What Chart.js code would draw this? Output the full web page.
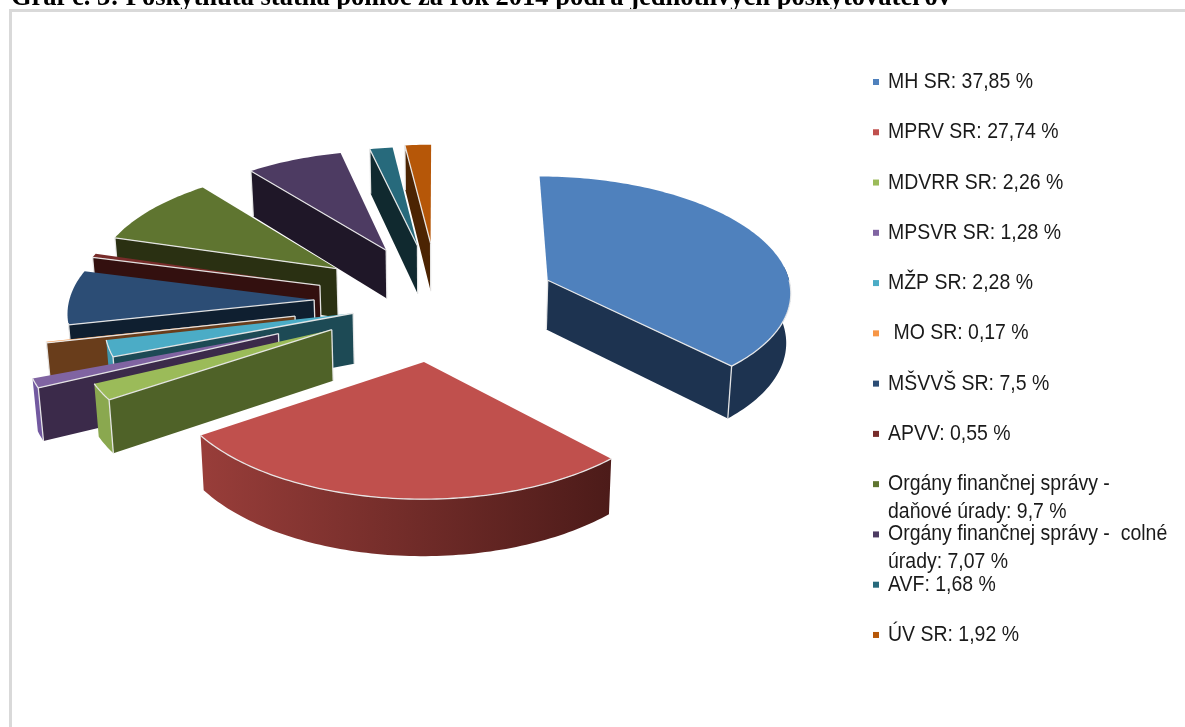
<!DOCTYPE html>
<html lang="sk"><head><meta charset="utf-8">
<script src="https://cdn.jsdelivr.net/npm/chart.js@4"></script>
<style>
html,body{margin:0;padding:0;background:#fff;overflow:hidden}
#wrap{position:relative;width:1185px;height:727px}
#frame{position:absolute;left:9px;top:9px;width:1300px;height:900px;border:3px solid #d9d9d9;box-sizing:border-box;pointer-events:none}
canvas{position:absolute;left:0;top:0}
</style></head><body>
<div id="wrap"><canvas id="c" width="1185" height="727"></canvas><div id="frame"></div></div>
<script>
const titleText = "Graf č. 3: Poskytnutá štátna pomoc za rok 2014 podľa jednotlivých poskytovateľov";
const categories = ["MH SR","MPRV SR","MDVRR SR","MPSVR SR","MŽP SR","MO SR","MŠVVŠ SR","APVV","Orgány finančnej správy - daňové úrady","Orgány finančnej správy - colné úrady","AVF","ÚV SR"];
const shares = [37.85,27.74,2.26,1.28,2.28,0.17,7.5,0.55,9.7,7.07,1.68,1.92];
const legendLines = [["MH SR: 37,85 %"],["MPRV SR: 27,74 %"],["MDVRR SR: 2,26 %"],["MPSVR SR: 1,28 %"],["MŽP SR: 2,28 %"],[" MO SR: 0,17 %"],["MŠVVŠ SR: 7,5 %"],["APVV: 0,55 %"],["Orgány finančnej správy -","daňové úrady: 9,7 %"],["Orgány finančnej správy -  colné","úrady: 7,07 %"],["AVF: 1,68 %"],["ÚV SR: 1,92 %"]];
const topColors = ["#4F81BD","#C0504D","#9BBB59","#8064A2","#4BACC6","#F79646","#2C4D75","#772C2A","#5F7530","#4D3B62","#276A7C","#B65708"];
const wallColors = ["#1D3350","#7a2f2d","#4F6228","#3B2A4A","#1D4A55","#693D1B","#0F1F30","#33100F","#2A3012","#1F1728","#10292F","#4C2403"];
const rimLeft = ["#1D3350","#A5433F","#8AA84F","#7259A0","#3F96AD","#693D1B","#1F3752","#5A1F1E","#2A3012","#1F1728","#10292F","#4C2403"];
const rimRight = ["#1D3350","#4A1A18","#8AA84F","#7259A0","#3F96AD","#693D1B","#1F3752","#5A1F1E","#2A3012","#1F1728","#10292F","#4C2403"];
const explodeBy = [120,125,120,170,88,145,124,124,125,124,124,128];

const tilt = 0.471, depth = 50, camera = 3018, edge = "rgba(235,235,235,0.95)";
const rimLimit = Math.PI - 0.2, rimFrom = -0.12;

const pie3d = {
  id: "pie3d",
  beforeDatasetDraw(chart, args) {
    const ctx = chart.ctx, arcs = args.meta.data;
    const order = arcs.map((a,i)=>i).sort((p,q)=>{
      const m = a=>Math.sin((a.startAngle+a.endAngle)/2);
      return m(arcs[p])-m(arcs[q]);
    });
    for (const i of order) {
      const a = arcs[i], s = a.startAngle, e = a.endAngle, mid=(s+e)/2, r = a.outerRadius;
      const bx = explodeBy[i]*Math.cos(mid), by = explodeBy[i]*Math.sin(mid);
      const proj = (X,Y,Z)=>{
        const f = 1/(1-Y/camera);
        return [a.x+X*f*(1-Z*0.00026), a.y+tilt*Y*f+Z*f];
      };
      const rimPt = (ang,Z)=>proj(bx+r*Math.cos(ang),by+r*Math.sin(ang),Z);
      const apex = Z=>proj(bx,by,Z);
      const arcPts = (from,to,Z)=>{
        const n=Math.max(2,Math.ceil(Math.abs(to-from)/0.02)),o=[];
        for(let k=0;k<=n;k++)o.push(rimPt(from+(to-from)*k/n,Z));
        return o;
      };
      const poly=(pts,fill)=>{ctx.beginPath();pts.forEach((p,k)=>k?ctx.lineTo(p[0],p[1]):ctx.moveTo(p[0],p[1]));ctx.closePath();ctx.fillStyle=fill;ctx.fill();};
      const open=(pts)=>{ctx.beginPath();pts.forEach((p,k)=>k?ctx.lineTo(p[0],p[1]):ctx.moveTo(p[0],p[1]));ctx.stroke();};
      ctx.save();
      ctx.lineWidth=1.3;ctx.strokeStyle=edge;ctx.lineJoin="round";
      const r0=Math.max(s,rimFrom), r1=Math.min(e,rimLimit), hasRim=r1>r0;
      if(hasRim){
        const g=ctx.createLinearGradient(a.x-r-60,0,a.x+r-60,0);
        g.addColorStop(0,rimLeft[i]);g.addColorStop(1,rimRight[i]);
        poly(arcPts(r0,r1,0).concat(arcPts(r1,r0,depth)),g);
      }
      const front=[];
      if(Math.cos(s)<0) front.push(s);
      if(Math.cos(e)>0) front.push(e);
      for(const ang of front) poly([apex(0),rimPt(ang,0),rimPt(ang,depth),apex(depth)],wallColors[i]);
      // top face from the angles the library computed for this arc element
      poly([apex(0)].concat(arcPts(s,e,0)),a.options.backgroundColor);
      if(hasRim) open(arcPts(Math.max(r0,0),r1,0));
      for(const ang of front){
        open([apex(0),rimPt(ang,0),rimPt(ang,depth)]);
        open([apex(0),apex(depth)]);
      }
      ctx.restore();
    }
    return false;
  },
  afterDraw(chart) {
    const ctx = chart.ctx;
    ctx.save();
    ctx.fillStyle="#000";ctx.font='bold 26.5px "Liberation Serif"';ctx.textBaseline="alphabetic";
    ctx.fillText(titleText,11,5);
    ctx.font='22px "Liberation Sans"';
    legendLines.forEach((lines,i)=>{
      const y=82+i*50.27;
      ctx.fillStyle=topColors[i];ctx.fillRect(873,y-3,6,6);
      ctx.fillStyle="#1a1a1a";
      ctx.textBaseline="middle";
      lines.forEach((t,j)=>{
        ctx.save();ctx.translate(888,y+j*27.5);ctx.scale(0.885,1);ctx.fillText(t,0,0);ctx.restore();
      });
    });
    ctx.restore();
  }
};

new Chart(document.getElementById("c"),{
  type:"pie",
  data:{labels:categories,datasets:[{data:shares,backgroundColor:topColors,borderWidth:0,radius:245}]},
  options:{
    responsive:false,animation:false,rotation:0,
    layout:{padding:{left:0,top:0,right:309,bottom:125}},
    plugins:{legend:{display:false},tooltip:{enabled:false},title:{display:false}}
  },
  plugins:[pie3d]
});
</script></body></html>
